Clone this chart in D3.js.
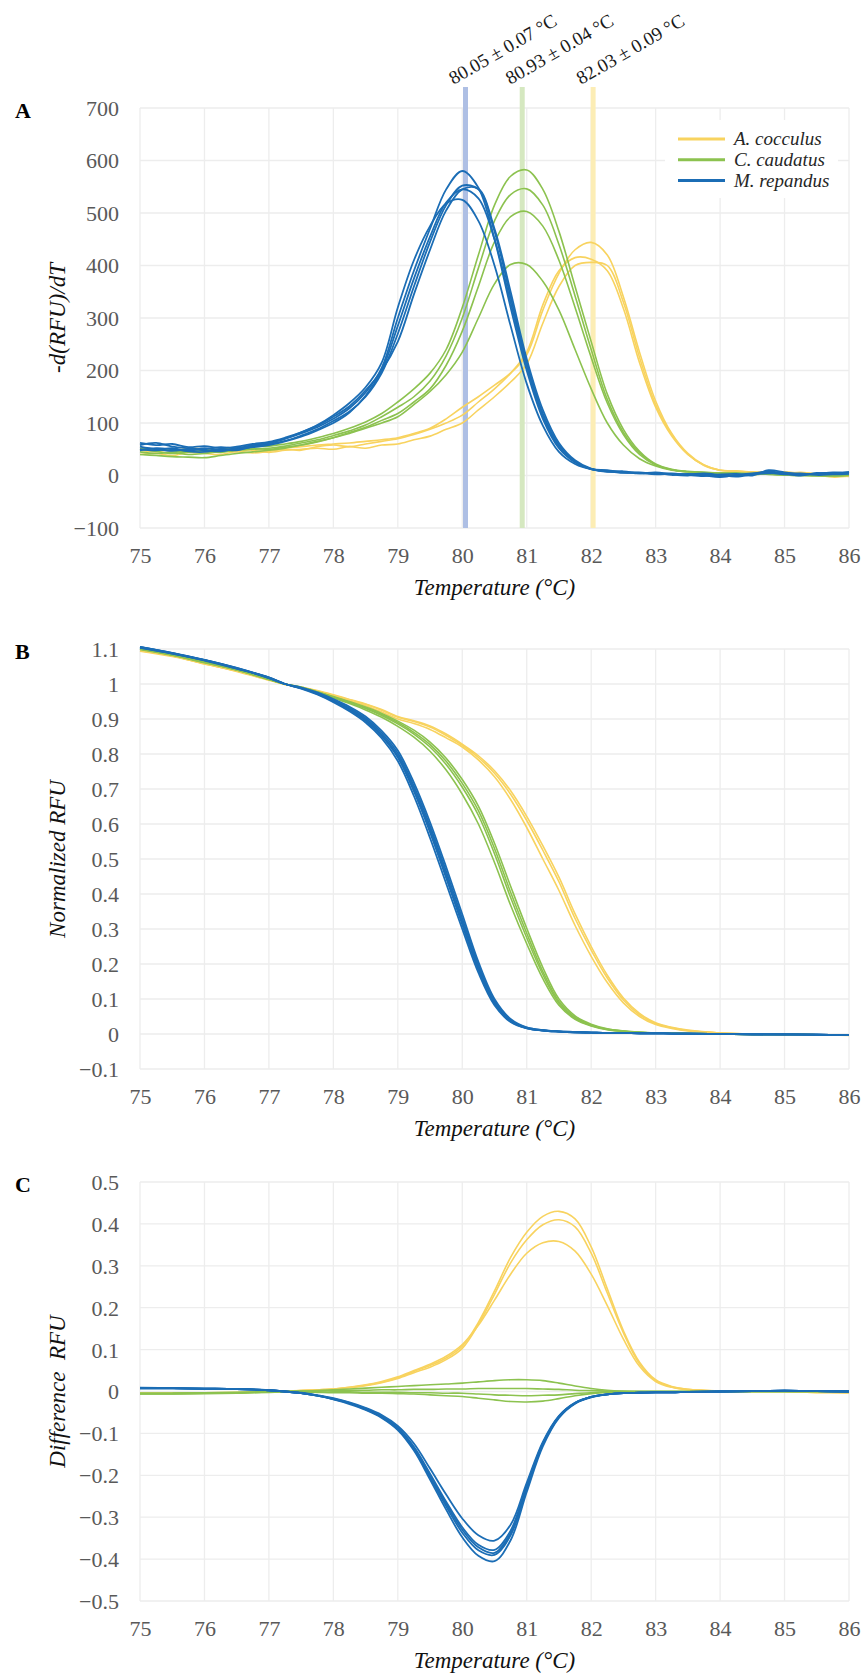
<!DOCTYPE html>
<html><head><meta charset="utf-8">
<script src="https://cdn.jsdelivr.net/npm/d3@7"></script>
<style>body{margin:0;background:#fff}</style>
</head><body>
<svg id="chart" width="868" height="1678"></svg>
<script>
// ---------------- DATA ----------------
const tempsA = [75,75.25,75.5,75.75,76,76.25,76.5,76.75,77,77.25,77.5,77.75,78,78.25,78.5,78.75,79,79.25,79.5,79.75,80,80.25,80.5,80.75,81,81.25,81.5,81.75,82,82.25,82.5,82.75,83,83.25,83.5,83.75,84,84.25,84.5,84.75,85,85.25,85.5,85.75,86];
const tempsBC = [75,75.5,76,76.5,77,77.25,77.5,77.75,78,78.25,78.5,78.75,79,79.25,79.5,79.75,80,80.25,80.5,80.75,81,81.25,81.5,81.75,82,82.25,82.5,82.75,83,83.25,83.5,84,84.5,85,85.5,86];
const xTicks = [75,76,77,78,79,80,81,82,83,84,85,86];
const ticksA = [-100,0,100,200,300,400,500,600,700];
const ticksB = [-0.1,0,0.1,0.2,0.3,0.4,0.5,0.6,0.7,0.8,0.9,1,1.1];
const ticksC = [-0.5,-0.4,-0.3,-0.2,-0.1,0,0.1,0.2,0.3,0.4,0.5];
const species = ["A. cocculus","C. caudatus","M. repandus"];
const tmValues = [80.05, 80.93, 82.03];
const tmLabels = ["80.05 \u00b1 0.07 \u00b0C","80.93 \u00b1 0.04 \u00b0C","82.03 \u00b1 0.09 \u00b0C"];

// Panel A: -d(RFU)/dT
const derivCocculus = [
 [48,45,50,47,44,48,45,50,48,52,55,58,60,62,65,68,72,80,90,108,130,150,172,195,230,315,385,430,444,420,340,235,142,80,42,20,10,8,6,5,7,4,2,0,-2],
 [40,42,38,44,42,40,46,43,46,50,48,55,58,55,60,65,70,78,88,100,115,140,165,195,235,325,390,415,412,390,318,215,130,75,40,19,10,8,7,5,4,6,3,-2,0],
 [52,50,47,52,50,46,50,48,44,48,50,52,50,55,52,58,60,68,75,88,100,125,150,178,212,290,360,400,406,400,330,225,135,78,40,20,10,9,6,7,5,3,1,-3,-1]
];
const derivCaudatus = [
 [52,50,47,45,48,50,52,55,56,60,65,72,80,90,102,118,140,165,195,240,320,420,515,570,582,545,465,360,255,155,88,46,22,12,8,6,5,4,3,4,2,1,0,2,1],
 [45,42,44,40,42,46,48,50,52,56,62,68,76,85,96,112,130,150,180,228,300,395,485,535,546,515,440,342,240,145,82,43,21,11,7,5,4,5,2,3,1,0,1,-1,0],
 [50,46,42,45,47,44,49,52,50,54,58,64,72,82,92,105,118,140,165,210,275,360,445,493,503,475,410,320,225,138,78,40,20,11,7,6,4,3,4,2,1,2,0,-1,1],
 [40,38,36,35,34,38,42,45,48,52,58,65,72,80,90,100,112,135,160,192,235,300,365,402,402,370,315,240,165,100,58,32,18,10,7,5,4,3,2,3,1,0,-1,0,1]
];
const derivRepandus = [
 [58,62,55,52,50,54,52,58,62,70,80,92,108,128,158,205,300,390,470,545,580,548,450,320,200,108,52,25,12,8,6,5,4,3,2,4,1,-2,2,6,3,1,4,5,6],
 [50,48,52,46,45,50,48,55,60,66,76,88,104,122,150,195,270,360,445,515,552,545,465,340,215,118,58,27,12,9,7,4,6,2,0,3,-2,0,3,8,4,0,5,3,7],
 [62,58,60,54,56,52,55,60,64,72,82,95,112,132,162,200,255,345,430,505,545,546,470,350,222,125,62,29,13,8,5,6,3,4,1,-1,2,3,0,10,6,2,3,6,4],
 [48,52,50,47,52,48,50,54,58,65,74,86,100,120,152,200,285,375,455,520,545,528,450,330,208,113,55,26,12,7,8,4,5,1,3,0,-3,1,4,5,2,4,1,2,3],
 [55,50,47,50,48,46,52,56,62,70,82,96,115,138,168,215,320,410,475,518,525,485,400,285,175,95,45,22,12,10,6,5,2,3,2,1,0,-1,3,4,5,3,2,4,5]
];

// Panel B: normalized RFU
const normCocculus = [
 [1.095,1.08,1.058,1.037,1.012,0.999,0.99,0.979,0.966,0.952,0.938,0.92,0.9,0.887,0.87,0.846,0.82,0.783,0.735,0.67,0.59,0.5,0.41,0.31,0.222,0.147,0.089,0.05,0.027,0.016,0.009,0.003,0.0,-0.001,-0.002,-0.003],
 [1.094,1.079,1.059,1.036,1.011,0.999,0.99,0.98,0.968,0.955,0.942,0.925,0.905,0.893,0.877,0.853,0.825,0.79,0.745,0.685,0.61,0.525,0.435,0.33,0.24,0.16,0.097,0.055,0.03,0.018,0.01,0.003,0.0,-0.001,-0.002,-0.003],
 [1.096,1.081,1.057,1.038,1.012,0.999,0.991,0.981,0.969,0.956,0.943,0.927,0.907,0.895,0.88,0.857,0.828,0.795,0.752,0.695,0.622,0.538,0.448,0.343,0.25,0.168,0.103,0.059,0.032,0.019,0.011,0.003,0.0,-0.001,-0.002,-0.004]
];
const normCaudatus = [
 [1.1,1.083,1.062,1.04,1.013,1.0,0.99,0.976,0.96,0.944,0.926,0.905,0.879,0.848,0.808,0.754,0.685,0.6,0.49,0.368,0.258,0.158,0.082,0.042,0.023,0.012,0.007,0.005,0.003,0.002,0.001,0.0,-0.001,-0.001,-0.002,-0.002],
 [1.099,1.082,1.061,1.041,1.014,1.0,0.99,0.977,0.962,0.947,0.93,0.91,0.886,0.857,0.82,0.77,0.705,0.625,0.515,0.39,0.275,0.17,0.088,0.045,0.024,0.013,0.008,0.005,0.003,0.002,0.001,0.0,-0.001,-0.001,-0.002,-0.002],
 [1.1,1.083,1.063,1.04,1.013,1.0,0.99,0.977,0.963,0.948,0.932,0.913,0.89,0.862,0.827,0.779,0.716,0.638,0.53,0.405,0.288,0.178,0.093,0.048,0.026,0.014,0.008,0.005,0.003,0.002,0.001,0.0,-0.001,-0.001,-0.002,-0.002],
 [1.101,1.084,1.062,1.041,1.013,1.0,0.991,0.978,0.964,0.95,0.934,0.916,0.894,0.868,0.834,0.788,0.727,0.651,0.545,0.422,0.302,0.19,0.1,0.052,0.028,0.015,0.009,0.005,0.003,0.002,0.001,0.0,-0.001,-0.001,-0.002,-0.002]
];
const normRepandus = [
 [1.104,1.087,1.068,1.045,1.017,1.0,0.987,0.97,0.948,0.922,0.89,0.845,0.78,0.68,0.56,0.43,0.3,0.175,0.082,0.034,0.016,0.01,0.007,0.005,0.004,0.003,0.003,0.002,0.002,0.001,0.001,0.0,-0.001,-0.001,-0.002,-0.003],
 [1.106,1.089,1.069,1.046,1.018,1.0,0.988,0.972,0.951,0.926,0.895,0.851,0.79,0.693,0.576,0.446,0.312,0.184,0.087,0.036,0.017,0.01,0.007,0.005,0.004,0.003,0.003,0.002,0.002,0.001,0.001,0.0,-0.001,-0.001,-0.002,-0.003],
 [1.105,1.088,1.067,1.044,1.019,1.0,0.988,0.973,0.952,0.928,0.898,0.855,0.795,0.7,0.585,0.455,0.32,0.19,0.09,0.038,0.017,0.01,0.007,0.005,0.004,0.003,0.003,0.002,0.002,0.001,0.001,0.0,-0.001,-0.002,-0.002,-0.003],
 [1.103,1.087,1.068,1.044,1.018,1.0,0.989,0.974,0.954,0.931,0.902,0.86,0.802,0.708,0.594,0.465,0.33,0.197,0.094,0.04,0.018,0.011,0.007,0.005,0.004,0.003,0.003,0.002,0.002,0.001,0.001,0.0,-0.001,-0.001,-0.002,-0.003],
 [1.106,1.088,1.069,1.046,1.017,1.0,0.99,0.976,0.957,0.935,0.907,0.866,0.81,0.718,0.605,0.477,0.342,0.206,0.1,0.043,0.019,0.011,0.008,0.006,0.004,0.003,0.003,0.002,0.002,0.001,0.001,0.0,-0.001,-0.001,-0.002,-0.003]
];

// Panel C: difference RFU
const diffCocculus = [
 [-0.004,-0.004,-0.003,-0.003,0.0,0.001,0.002,0.004,0.006,0.01,0.015,0.022,0.033,0.048,0.062,0.08,0.108,0.165,0.24,0.32,0.38,0.418,0.43,0.412,0.345,0.245,0.145,0.07,0.028,0.012,0.005,0.001,0.0,0.0,-0.002,-0.003],
 [-0.004,-0.004,-0.003,-0.003,0.0,0.001,0.002,0.003,0.005,0.009,0.014,0.021,0.031,0.045,0.058,0.076,0.103,0.16,0.232,0.307,0.362,0.398,0.41,0.393,0.33,0.235,0.14,0.066,0.026,0.011,0.005,0.001,0.0,0.0,-0.002,-0.003],
 [-0.004,-0.004,-0.003,-0.002,0.0,0.001,0.002,0.004,0.006,0.01,0.016,0.024,0.035,0.05,0.065,0.084,0.112,0.158,0.218,0.28,0.33,0.355,0.358,0.335,0.28,0.205,0.125,0.06,0.024,0.01,0.004,0.001,0.0,0.0,-0.002,-0.003]
];
const diffCaudatus = [
 [-0.005,-0.005,-0.004,-0.003,-0.001,0.0,0.001,0.002,0.004,0.006,0.008,0.01,0.012,0.014,0.016,0.018,0.02,0.023,0.026,0.028,0.028,0.026,0.02,0.013,0.007,0.003,0.001,0.0,0.0,0.0,0.0,0.0,0.0,0.0,0.0,0.0],
 [-0.004,-0.004,-0.003,-0.002,-0.001,0.0,0.001,0.001,0.002,0.003,0.003,0.004,0.004,0.005,0.005,0.006,0.006,0.007,0.007,0.007,0.007,0.006,0.005,0.003,0.002,0.001,0.0,0.0,0.0,0.0,0.0,0.0,0.0,0.0,0.0,0.0],
 [-0.005,-0.005,-0.004,-0.003,-0.001,0.0,0.0,-0.001,-0.001,-0.001,-0.002,-0.002,-0.002,-0.003,-0.003,-0.004,-0.004,-0.006,-0.008,-0.009,-0.01,-0.009,-0.008,-0.005,-0.003,-0.001,0.0,0.0,0.0,0.0,0.0,0.0,0.0,0.0,0.0,0.0],
 [-0.006,-0.006,-0.005,-0.004,-0.002,-0.001,-0.001,-0.002,-0.003,-0.003,-0.004,-0.004,-0.005,-0.006,-0.008,-0.01,-0.012,-0.016,-0.02,-0.024,-0.025,-0.023,-0.017,-0.01,-0.005,-0.002,-0.001,0.0,0.0,0.0,0.0,0.0,0.0,0.0,0.0,0.0]
];
const diffRepandus = [
 [0.009,0.008,0.007,0.006,0.003,0.0,-0.004,-0.01,-0.019,-0.03,-0.044,-0.063,-0.092,-0.141,-0.21,-0.282,-0.348,-0.392,-0.405,-0.355,-0.24,-0.131,-0.063,-0.029,-0.014,-0.007,-0.004,-0.003,-0.002,-0.002,-0.001,0.0,0.001,0.002,0.001,0.0],
 [0.008,0.008,0.007,0.006,0.003,0.0,-0.004,-0.01,-0.018,-0.028,-0.043,-0.061,-0.09,-0.138,-0.205,-0.274,-0.337,-0.379,-0.39,-0.343,-0.232,-0.127,-0.061,-0.028,-0.013,-0.007,-0.004,-0.003,-0.002,-0.002,-0.001,0.0,0.001,0.002,0.001,0.0],
 [0.008,0.008,0.007,0.006,0.003,0.0,-0.004,-0.01,-0.018,-0.028,-0.042,-0.06,-0.088,-0.135,-0.2,-0.268,-0.33,-0.372,-0.385,-0.338,-0.228,-0.125,-0.06,-0.028,-0.013,-0.007,-0.004,-0.003,-0.002,-0.002,-0.001,0.0,0.001,0.002,0.001,0.0],
 [0.008,0.008,0.007,0.006,0.003,0.0,-0.004,-0.009,-0.017,-0.027,-0.041,-0.059,-0.086,-0.132,-0.196,-0.263,-0.324,-0.366,-0.378,-0.332,-0.224,-0.123,-0.059,-0.027,-0.013,-0.007,-0.004,-0.003,-0.002,-0.002,-0.001,0.0,0.001,0.002,0.001,0.0],
 [0.007,0.007,0.006,0.006,0.003,0.0,-0.003,-0.009,-0.016,-0.026,-0.039,-0.056,-0.082,-0.124,-0.184,-0.246,-0.303,-0.343,-0.356,-0.318,-0.218,-0.12,-0.058,-0.027,-0.013,-0.007,-0.004,-0.003,-0.002,-0.002,-0.001,0.0,0.001,0.002,0.001,0.0]
];

// ---------------- STYLE ----------------
const colors = {"A. cocculus":"#F8D35F","C. caudatus":"#8CC24F","M. repandus":"#1B6DB5"};
const bandColors = ["#AEBFE4","#D5E8C0","#FCEDB5"];
const serif = "'Liberation Serif','Times New Roman',Times,serif";
const gridColor = "#EDEDED";

const svg = d3.select("#chart");
const x = d3.scaleLinear().domain([75,86]).range([140,849]);

function drawPanel(opt){
  const y = d3.scaleLinear().domain(opt.domain).range([opt.bottom, opt.top]);
  const g = svg.append("g");
  g.append("g").selectAll("line").data(opt.yTicks).join("line")
    .attr("x1", x(75)).attr("x2", x(86))
    .attr("y1", d => y(d)).attr("y2", d => y(d))
    .attr("stroke", gridColor).attr("stroke-width", 1.3);
  g.append("g").selectAll("line").data(xTicks).join("line")
    .attr("x1", d => x(d)).attr("x2", d => x(d))
    .attr("y1", opt.top).attr("y2", opt.bottom)
    .attr("stroke", gridColor).attr("stroke-width", 1.3);
  const ya = g.append("g").attr("transform", `translate(${x(75)},0)`)
    .call(d3.axisLeft(y).tickValues(opt.yTicks).tickSize(0).tickPadding(21).tickFormat(opt.fmt));
  ya.select(".domain").remove();
  ya.selectAll("text").style("font-family", serif).style("font-size", "22px").attr("fill", "#595959").attr("dy","0.34em");
  const xa = g.append("g").attr("transform", `translate(0,${opt.bottom})`)
    .call(d3.axisBottom(x).tickValues(xTicks).tickSize(0).tickPadding(19).tickFormat(d3.format("d")));
  xa.select(".domain").remove();
  xa.selectAll("text").style("font-family", serif).style("font-size", "22px").attr("fill", "#595959");
  g.append("text").attr("x", (x(75)+x(86))/2).attr("y", opt.bottom + 67)
    .attr("text-anchor","middle").style("font-family", serif).style("font-style","italic")
    .style("font-size", "23px").attr("fill","#111").text("Temperature (\u00b0C)");
  g.append("text").attr("transform", `translate(65,${(opt.top+opt.bottom)/2}) rotate(-90)`)
    .attr("text-anchor","middle").style("font-family", serif).style("font-style","italic")
    .style("font-size", "23px").style("white-space","pre").attr("fill","#111").text(opt.ytitle);
  g.append("text").attr("x", 15).attr("y", opt.top + 10)
    .style("font-family", serif).style("font-weight","bold").style("font-size", "22px").attr("fill","#000").text(opt.letter);
  return {g, y};
}

function drawLines(g, y, temps, groups){
  const line = d3.line().x((d,i) => x(temps[i])).y(d => y(d)).curve(d3.curveCatmullRom.alpha(0.5));
  groups.forEach(([name, arr]) => {
    g.append("g").selectAll("path").data(arr).join("path")
      .attr("d", line).attr("fill","none").attr("stroke", colors[name])
      .attr("stroke-width", name === "M. repandus" ? 1.8 : 1.6);
  });
}

// Panel A
const pA = drawPanel({domain:[-100,700], top:108, bottom:528, yTicks:ticksA, fmt:d3.format("d"), ytitle:"-d(RFU)/dT", letter:"A"});
pA.g.append("g").selectAll("rect").data(tmValues).join("rect")
  .attr("x", d => x(d) - 2.5).attr("width", 5)
  .attr("y", 87).attr("height", 528 - 87)
  .attr("fill", (d,i) => bandColors[i]);
pA.g.append("g").selectAll("text").data(tmLabels).join("text")
  .attr("transform", (d,i) => `translate(${x(tmValues[i]) - 12},85) rotate(-30)`)
  .style("font-family", serif).style("font-size", "19px").attr("fill", "#1a1a1a").text(d => d);
drawLines(pA.g, pA.y, tempsA, [["A. cocculus", derivCocculus],["C. caudatus", derivCaudatus],["M. repandus", derivRepandus]]);
const lg = pA.g.append("g");
lg.append("rect").attr("x", 665).attr("y", 120).attr("width", 173).attr("height", 78).attr("fill", "#fff");
species.forEach((s,i) => {
  const yy = 139 + i*20.8;
  lg.append("line").attr("x1", 678).attr("x2", 725).attr("y1", yy).attr("y2", yy)
    .attr("stroke", colors[s]).attr("stroke-width", 3);
  lg.append("text").attr("x", 734).attr("y", yy + 6).style("font-family", serif).style("font-style","italic")
    .style("font-size", "19px").attr("fill", "#262626").text(s);
});

// Panel B
const fmtB = d => (Math.abs(d) < 1e-9 ? "0" : d3.format("~g")(+d.toFixed(1)));
const pB = drawPanel({domain:[-0.1,1.1], top:649, bottom:1069, yTicks:ticksB, fmt:fmtB, ytitle:"Normalized RFU", letter:"B"});
drawLines(pB.g, pB.y, tempsBC, [["A. cocculus", normCocculus],["C. caudatus", normCaudatus],["M. repandus", normRepandus]]);

// Panel C
const pC = drawPanel({domain:[-0.5,0.5], top:1182, bottom:1601, yTicks:ticksC, fmt:fmtB, ytitle:"Difference  RFU", letter:"C"});
drawLines(pC.g, pC.y, tempsBC, [["A. cocculus", diffCocculus],["C. caudatus", diffCaudatus],["M. repandus", diffRepandus]]);
</script>
</body></html>
